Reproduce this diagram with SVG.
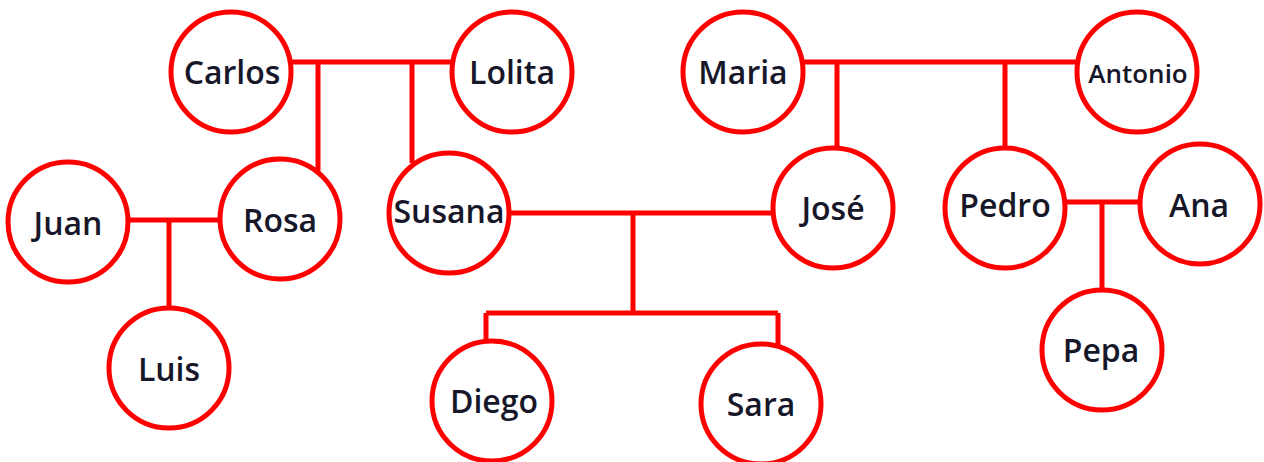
<svg xmlns="http://www.w3.org/2000/svg" width="1264" height="462" viewBox="0 0 1264 462">
<style>
.n circle{fill:#fff;stroke:#ff0000;stroke-width:5}
.n text{font-family:"Open Sans","Noto Sans",sans-serif;font-weight:600;font-size:32px;fill:#17172a;text-anchor:middle}
.c{fill:none;stroke:#ff0000;stroke-width:5}
</style>
<rect width="1264" height="462" fill="#fff"/>
<g id="connectors" class="c">
<path d="M292 62H452M318 62V171M412 62V163"/>
<path d="M803 62H1078M837 62V150M1005 62V150"/>
<path d="M128 220H220M169 220V309"/>
<path d="M509 213H774M633 213V313M486 313H778M486 313V342M778 313V345"/>
<path d="M1065 202H1140M1102 202V290"/>
</g>
<g id="carlos" class="n"><circle cx="231" cy="72" r="60"/><text x="232" y="84">Carlos</text></g>
<g id="lolita" class="n"><circle cx="512" cy="72" r="60"/><text x="512" y="84">Lolita</text></g>
<g id="maria" class="n"><circle cx="743" cy="72" r="60"/><text x="743" y="84">Maria</text></g>
<g id="antonio" class="n"><circle cx="1137" cy="72" r="60"/><text x="1138" y="83" style="font-size:26px">Antonio</text></g>
<g id="juan" class="n"><circle cx="68" cy="222" r="60"/><text x="68" y="235">Juan</text></g>
<g id="rosa" class="n"><circle cx="280" cy="219" r="60"/><text x="280" y="232">Rosa</text></g>
<g id="luis" class="n"><circle cx="169" cy="368" r="60"/><text x="169" y="381">Luis</text></g>
<g id="susana" class="n"><circle cx="449" cy="213" r="60"/><text x="449" y="223">Susana</text></g>
<g id="jose" class="n"><circle cx="833" cy="208" r="60"/><text x="833" y="220">José</text></g>
<g id="diego" class="n"><circle cx="492" cy="401" r="60"/><text x="494" y="413">Diego</text></g>
<g id="sara" class="n"><circle cx="761" cy="404" r="60"/><text x="761" y="416">Sara</text></g>
<g id="pedro" class="n"><circle cx="1005" cy="208" r="60"/><text x="1005" y="217">Pedro</text></g>
<g id="ana" class="n"><circle cx="1200" cy="204" r="60"/><text x="1199" y="217">Ana</text></g>
<g id="pepa" class="n"><circle cx="1102" cy="350" r="60"/><text x="1101" y="362">Pepa</text></g>
</svg>
